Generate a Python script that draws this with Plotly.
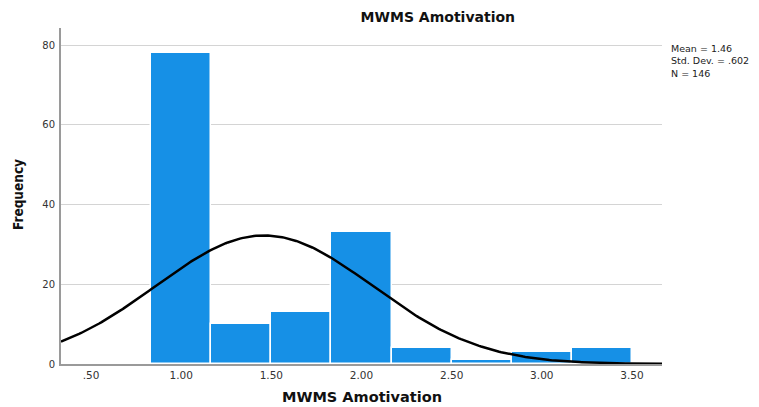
import numpy as np
import plotly.graph_objects as go

bin_centers = [1.0, 1.3333, 1.6667, 2.0, 2.3333, 2.6667, 3.0, 3.3333]
frequencies = [78, 10, 13, 33, 4, 1, 3, 4]
bin_width = 1 / 3
mean_val = 1.46
sd_val = 0.602
n_val = 146
x_ticks = [0.5, 1.0, 1.5, 2.0, 2.5, 3.0, 3.5]
x_tick_labels = [".50", "1.00", "1.50", "2.00", "2.50", "3.00", "3.50"]
y_ticks = [0, 20, 40, 60, 80]
stats_lines = ["Mean = 1.46", "Std. Dev. = .602", "N = 146"]

x_range = [0.3333, 3.6667]
xs = np.linspace(x_range[0], x_range[1], 300)
ys = n_val * bin_width * np.exp(-0.5 * ((xs - mean_val) / sd_val) ** 2) / (sd_val * np.sqrt(2 * np.pi))

fig = go.Figure()
fig.add_trace(go.Bar(
    x=bin_centers, y=frequencies, width=[bin_width] * len(bin_centers),
    marker=dict(color="#1690E6", line=dict(color="white", width=1.5)),
    showlegend=False, hoverinfo="x+y"))
fig.add_trace(go.Scatter(
    x=xs, y=ys, mode="lines", line=dict(color="black", width=2.5),
    showlegend=False, hoverinfo="skip"))

font_fam = "DejaVu Sans, Verdana, sans-serif"
fig.update_layout(
    width=759, height=407,
    margin=dict(l=53, r=105, t=20, b=51, autoexpand=False),
    paper_bgcolor="white", plot_bgcolor="white",
    bargap=0,
    font=dict(family=font_fam, size=10, color="#222"),
    xaxis=dict(range=x_range, tickvals=x_ticks, ticktext=x_tick_labels,
               showgrid=False, showline=True, linecolor="#9a9a9a", linewidth=2,
               ticks="", zeroline=False, tickfont=dict(size=10.5, color="#333"),
               automargin=False, ticklabelstandoff=0),
    yaxis=dict(range=[0, 84.3], tickvals=y_ticks, showgrid=True, gridcolor="#d4d4d4",
               gridwidth=1, showline=True, linecolor="#9a9a9a", linewidth=2,
               ticks="", zeroline=False, tickfont=dict(size=10, color="#333"),
               automargin=False, ticklabelstandoff=2),
    title=dict(text="<b>MWMS Amotivation</b>", xref="paper", x=0.627, xanchor="center",
               yref="container", y=0.978, yanchor="middle",
               font=dict(size=14, color="#111")),
)
# axis titles
fig.add_annotation(xref="paper", yref="paper", x=0.5008, y=-0.098, xanchor="center", yanchor="middle",
                   text="<b>MWMS Amotivation</b>", showarrow=False,
                   font=dict(size=14.5, color="#111"))
fig.add_annotation(xref="paper", yref="paper", x=-0.0715, y=0.503, xanchor="center", yanchor="middle",
                   text="<b>Frequency</b>", showarrow=False, textangle=-90,
                   font=dict(family="Liberation Sans Narrow, DejaVu Sans Condensed, sans-serif",
                             size=13.5, color="#111"))
# statistics box
fig.add_annotation(
    xref="paper", yref="paper", x=1.011, y=0.962,
    xanchor="left", yanchor="top", text="<br>".join(stats_lines), showarrow=False,
    align="left", font=dict(size=9.5, color="#222"))

fig.write_html("out.html")
